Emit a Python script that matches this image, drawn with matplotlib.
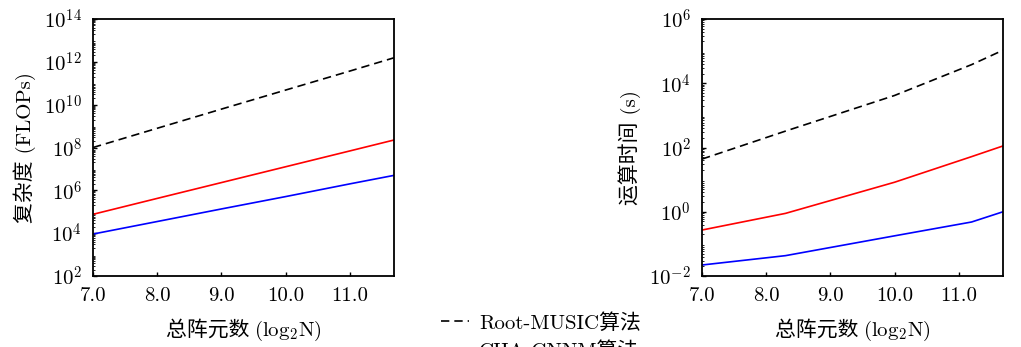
import math
import matplotlib
matplotlib.use("Agg")
import matplotlib.pyplot as plt
from matplotlib.ticker import FixedLocator, FuncFormatter, FormatStrFormatter, LogLocator, NullFormatter
from matplotlib.offsetbox import TextArea, HPacker, AnchoredOffsetbox

plt.rcParams['mathtext.fontset'] = 'cm'
plt.rcParams['axes.formatter.use_mathtext'] = True
plt.rcParams['font.family'] = ['cmr10', 'Noto Sans CJK SC', 'DejaVu Sans']
plt.rcParams['axes.unicode_minus'] = False

# ---- data ----
x_left = [7.0, 8.0, 9.0, 10.0, 11.0, 11.69]
flops_root_music = [1.0e8, 7.9e8, 6.2e9, 4.8e10, 3.7e11, 1.55e12]
flops_red = [7.6e4, 4.2e5, 2.3e6, 1.26e7, 6.9e7, 2.24e8]
flops_blue = [9.1e3, 3.5e4, 1.35e5, 5.1e5, 2.0e6, 5.0e6]

x_right = [7.0, 8.3, 10.0, 11.2, 11.69]
time_root_music = [43.7, 324.0, 4170.0, 38000.0, 107000.0]
time_red = [0.27, 0.89, 8.3, 52.0, 112.0]
time_blue = [0.022, 0.043, 0.178, 0.48, 1.0]

label_black = 'Root-MUSIC算法'
label_red = 'CHA-CNNM算法'

xticks = [7.0, 8.0, 9.0, 10.0, 11.0]
xlabel_cn = '总阵元数 '
xlabel_math = r'(log$_2$N)'
ylabel_left = '复杂度 (FLOPs)'
ylabel_right = '运算时间 (s)'
yticks_left = [1e2, 1e4, 1e6, 1e8, 1e10, 1e12, 1e14]
yticks_right = [1e-2, 1e0, 1e2, 1e4, 1e6]

fig = plt.figure(figsize=(10.21, 3.47), dpi=100)
axL = fig.add_axes([0.0911, 0.2046, 0.2948, 0.7406])
axR = fig.add_axes([0.6876, 0.2046, 0.2948, 0.7406])

def expfmt(v, pos):
    e = int(round(math.log10(v)))
    return r'$10^{%d}$' % e

lw = 1.2
fs = 15
for ax, xs, yb, yr, yl, yt, ylab in [
        (axL, x_left, flops_root_music, flops_red, flops_blue, yticks_left, ylabel_left),
        (axR, x_right, time_root_music, time_red, time_blue, yticks_right, ylabel_right)]:
    lb, = ax.plot(xs, yb, color='black', lw=lw, dashes=(5, 3), label=label_black)
    lr, = ax.plot(xs, yr, color='#ff0000', lw=lw, label=label_red)
    ax.plot(xs, yl, color='#0000ff', lw=lw)
    ax.set_yscale('log')
    ax.set_xlim(7.0, 11.69)
    ax.set_ylim(yt[0], yt[-1])
    ax.yaxis.set_major_locator(FixedLocator(yt))
    ax.yaxis.set_major_formatter(FuncFormatter(expfmt))
    ax.yaxis.set_minor_locator(LogLocator(base=10, subs=range(2, 10), numticks=100))
    ax.yaxis.set_minor_formatter(NullFormatter())
    ax.xaxis.set_major_locator(FixedLocator(xticks))
    ax.xaxis.set_major_formatter(FormatStrFormatter('%.1f'))
    ax.tick_params(axis='both', which='major', direction='in', length=3, width=1.0,
                   labelsize=fs, top=False, right=False, pad=8)
    ax.tick_params(axis='y', which='minor', direction='in', length=1.5, width=0.6,
                   right=False)
    for s in ax.spines.values():
        s.set_linewidth(1.3)
    ax.set_ylabel(ylab, fontsize=fs, labelpad=6)
    # x label: Chinese part + math part side by side
    t1 = TextArea(xlabel_cn, textprops=dict(fontsize=fs, family=['Noto Sans CJK SC']))
    t2 = TextArea(xlabel_math, textprops=dict(fontsize=fs))
    pack = HPacker(children=[t1, t2], align='baseline', pad=0, sep=0)
    ab = AnchoredOffsetbox(loc='upper center', child=pack, pad=0, frameon=False,
                           bbox_to_anchor=(0.5, -0.165), bbox_transform=ax.transAxes,
                           borderpad=0)
    ax.add_artist(ab)

fig.legend([lb, lr], [label_black, label_red], loc='upper center',
           bbox_to_anchor=(0.530, 0.128), frameon=False, fontsize=fs,
           handlelength=1.3, handletextpad=0.5, labelspacing=0.4, borderpad=0)

fig.savefig('out.png', dpi=100)
